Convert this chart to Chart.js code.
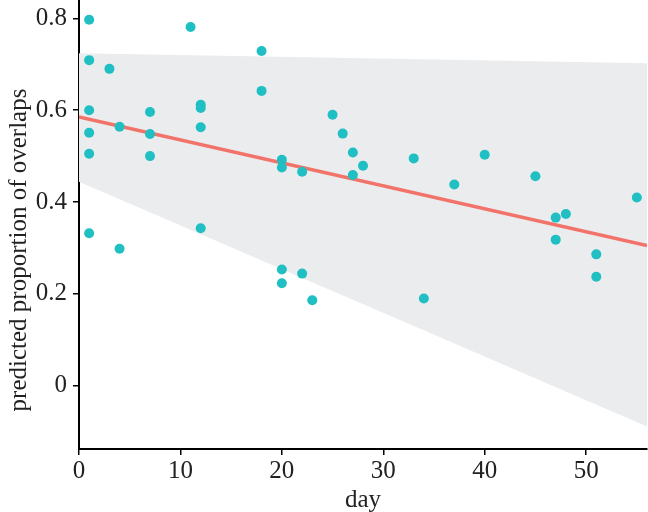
<!DOCTYPE html>
<html>
<head>
<meta charset="utf-8">
<script src="https://cdn.jsdelivr.net/npm/chart.js@4"></script>
<style>
  html, body { margin: 0; padding: 0; background: #fff; }
  #wrap { width: 648px; height: 512px; }
</style>
</head>
<body>
<div id="wrap"><canvas id="chart" width="648" height="512"></canvas></div>
<script>
  // observed points
  const days = [1, 1, 3, 1, 1, 1, 4, 7, 7, 7, 11, 12, 12, 12, 1, 4, 12, 18, 18, 20, 20,
    22, 25, 26, 27, 28, 27, 33, 20, 20, 22, 23, 34, 37, 40, 45, 47, 48, 47, 51, 51, 55];
  const overlaps = [0.797, 0.709, 0.690, 0.600, 0.551, 0.505, 0.564, 0.596, 0.548, 0.500,
    0.781, 0.612, 0.605, 0.563, 0.332, 0.298, 0.343, 0.729, 0.642, 0.492, 0.475,
    0.466, 0.590, 0.549, 0.508, 0.479, 0.459, 0.495, 0.253, 0.223, 0.244, 0.186,
    0.190, 0.438, 0.503, 0.456, 0.366, 0.374, 0.318, 0.286, 0.237, 0.410];

  // fitted line and its band, at both ends of the day axis
  const fitDays = [0, 56];
  const fitValues = [0.585, 0.305];
  const bandUpper = [0.724, 0.702];
  const bandLower = [0.444, -0.089];

  const xTicks = [0, 10, 20, 30, 40, 50];
  const yTicks = [0, 0.2, 0.4, 0.6, 0.8];
  const yTitle = 'predicted proportion of overlaps';

  const toPoints = (xs, ys) => xs.map((x, i) => ({ x: x, y: ys[i] }));
  const serif = '"Liberation Serif", "Times New Roman", Times, serif';
  const textColor = '#222';

  // y title sits a bit below the axis middle in the original, so draw it ourselves
  const yTitlePlugin = {
    id: 'yTitle',
    afterDraw(chart) {
      const ctx = chart.ctx;
      ctx.save();
      ctx.translate(19, 250);
      ctx.rotate(-Math.PI / 2);
      ctx.font = '25px ' + serif;
      ctx.fillStyle = textColor;
      ctx.textAlign = 'center';
      ctx.textBaseline = 'middle';
      ctx.fillText(yTitle, 0, 0);
      ctx.restore();
    }
  };

  new Chart(document.getElementById('chart'), {
    type: 'scatter',
    data: {
      datasets: [{
        data: toPoints(days, overlaps),
        backgroundColor: '#1fbfc3',
        borderWidth: 0,
        pointRadius: 5,
      }, {
        data: toPoints(fitDays, fitValues),
        showLine: true,
        borderColor: '#f27369',
        borderWidth: 3.5,
        pointRadius: 0,
      }, {
        data: toPoints(fitDays, bandUpper),
        showLine: true,
        borderWidth: 0,
        borderColor: 'rgba(0,0,0,0)',
        pointRadius: 0,
      }, {
        data: toPoints(fitDays, bandLower),
        showLine: true,
        borderWidth: 0,
        borderColor: 'rgba(0,0,0,0)',
        backgroundColor: '#ebecee',
        pointRadius: 0,
        fill: '-1',
      }]
    },
    plugins: [yTitlePlugin],
    options: {
      responsive: false,
      animation: false,
      layout: { autoPadding: false, padding: { top: 0, right: 1, left: 0, bottom: 0 } },
      plugins: { legend: { display: false }, tooltip: { enabled: false } },
      scales: {
        x: {
          type: 'linear',
          min: 0,
          max: 56,
          afterBuildTicks: s => { s.ticks = xTicks.map(v => ({ value: v })); },
          afterFit: s => { s.height = 63; s.paddingLeft = 0; s.paddingRight = 0; },
          grid: { drawOnChartArea: false, drawTicks: true, tickLength: 6, color: '#000', lineWidth: 1.5 },
          border: { display: true, color: '#000', width: 2 },
          ticks: { color: textColor, font: { family: serif, size: 25 }, padding: 1 },
          title: { display: true, text: 'day', color: textColor, font: { family: serif, size: 25 }, padding: { top: 0, bottom: -3 } },
        },
        y: {
          type: 'linear',
          min: -0.138,
          max: 0.84,
          afterBuildTicks: s => { s.ticks = yTicks.map(v => ({ value: v })); },
          afterFit: s => { s.width = 79; s.paddingTop = 0; s.paddingBottom = 0; },
          grid: { drawOnChartArea: false, drawTicks: true, tickLength: 6, color: '#000', lineWidth: 1.5 },
          border: { display: true, color: '#000', width: 2 },
          ticks: {
            color: textColor,
            font: { family: serif, size: 25 },
            padding: 6,
            callback: v => String(Math.round(v * 10) / 10),
          },
          title: { display: false, text: yTitle },
        }
      }
    }
  });
</script>
</body>
</html>
